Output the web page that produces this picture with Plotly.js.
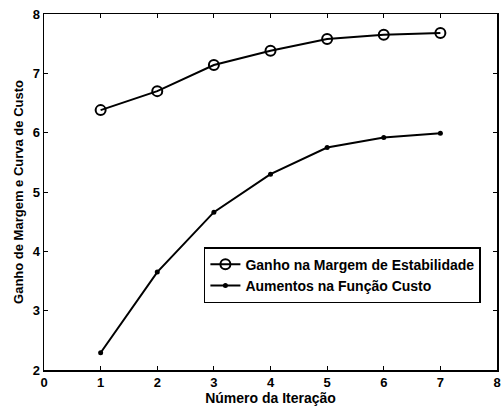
<!DOCTYPE html>
<html>
<head>
<meta charset="utf-8">
<script src="https://cdn.plot.ly/plotly-3.0.1.min.js"></script>
<style>html,body{margin:0;padding:0;background:#fff;}#chart{width:502px;height:406px;}</style>
</head>
<body>
<div id="chart"></div>
<script>
const iteracoes = [1, 2, 3, 4, 5, 6, 7];
const ganhoMargem = [6.38, 6.70, 7.14, 7.38, 7.58, 7.65, 7.68];
const aumentoCusto = [2.29, 3.65, 4.66, 5.30, 5.75, 5.92, 5.99];
const nomeSerie1 = 'Ganho na Margem de Estabilidade';
const nomeSerie2 = 'Aumentos na Função Custo';
const xTicks = [0, 1, 2, 3, 4, 5, 6, 7, 8];
const yTicks = [2, 3, 4, 5, 6, 7, 8];
const tituloX = 'Número da Iteração';
const tituloY = 'Ganho de Margem e Curva de Custo';

const fontFam = 'Liberation Sans';
const b = s => '<b>' + s + '</b>';
const traces = [
  {
    x: iteracoes, y: ganhoMargem, name: b(nomeSerie1), type: 'scatter', mode: 'lines+markers',
    line: {color: '#000', width: 2},
    marker: {symbol: 'circle-open', size: 10, color: '#000', line: {width: 2, color: '#000'}}
  },
  {
    x: iteracoes, y: aumentoCusto, name: b(nomeSerie2), type: 'scatter', mode: 'lines+markers',
    line: {color: '#000', width: 2},
    marker: {symbol: 'circle', size: 5, color: '#000'}
  }
];
const axisCommon = {
  showgrid: false, zeroline: false, showline: true, mirror: 'ticks',
  linecolor: '#000', linewidth: 1.5, ticks: 'inside', ticklen: 4, tickcolor: '#000', tickwidth: 1,
  tickfont: {family: fontFam, size: 13, color: '#000'}
};
const layout = {
  width: 502, height: 406,
  margin: {l: 44, r: 5, t: 14, b: 36},
  paper_bgcolor: '#fff', plot_bgcolor: '#fff',
  showlegend: true,
  xaxis: Object.assign({}, axisCommon, {
    range: [0, 8], tickvals: xTicks, ticktext: xTicks.map(v => b(String(v))),
    title: {text: b(tituloX), font: {family: fontFam, size: 14, color: '#000'}, standoff: 7}
  }),
  yaxis: Object.assign({}, axisCommon, {
    range: [2, 8], tickvals: yTicks, ticktext: yTicks.map(v => b(String(v))),
    title: {text: b(tituloY), font: {family: fontFam, size: 13, color: '#000'}, standoff: 6}
  }),
  legend: {
    x: 0.353, y: 0.345, xanchor: 'left', yanchor: 'top',
    bordercolor: '#000', borderwidth: 1.5, bgcolor: '#fff',
    font: {family: fontFam, size: 14, color: '#000'},
    tracegroupgap: 0, itemwidth: 30
  }
};
Plotly.newPlot('chart', traces, layout, {displayModeBar: false, staticPlot: true});
</script>
</body>
</html>
